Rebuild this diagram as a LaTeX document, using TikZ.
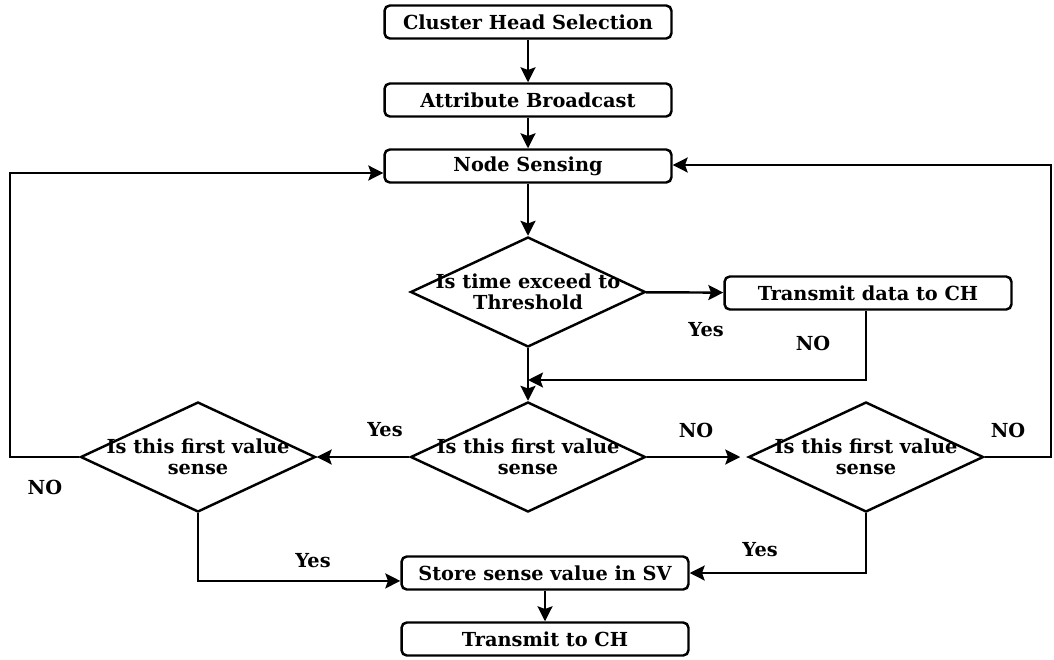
\documentclass[tikz,border=0pt]{standalone}
\usepackage{fontspec}
\setmainfont{DejaVu Serif}
\usetikzlibrary{shapes.geometric,arrows.meta}
\tikzstyle{every node}=[font=\bfseries\fontsize{11}{12}\selectfont]
\tikzstyle{process}=[draw=black,line width=1.4pt,rounded corners=3pt,minimum width=5.74cm,minimum height=0.66cm,inner sep=0pt]
\tikzstyle{decision}=[draw=black,line width=1.4pt,diamond,aspect=2.14,minimum width=4.7cm,minimum height=2.2cm,inner xsep=-0.55cm,inner ysep=0pt,align=center]
\tikzstyle{answer}=[inner sep=0pt]
\tikzstyle{flow}=[line width=1.4pt,-{Stealth[length=8.5pt,width=8.5pt,inset=1.5pt]}]

\begin{document}
\begin{tikzpicture}[x=0.02cm,y=-0.02cm]
	\useasboundingbox (0,0) rectangle (1054,659);

	\node [process] (chs) at (528,22) {Cluster Head Selection};
	\node [process] (ab) at (528,100) {Attribute Broadcast};
	\node [process] (ns) at (528,166) {Node Sensing};
	\node [decision] (thr) at (528,292) {Is time exceed to\\Threshold};
	\node [process] (tdc) at (868,293) {Transmit data to CH};
	\node [decision] (fvc) at (528,457) {Is this first value\\sense};
	\node [decision] (fvl) at (198,457) {Is this first value\\sense};
	\node [decision] (fvr) at (866,457) {Is this first value\\sense};
	\node [process] (ssv) at (545,573) {Store sense value in SV};
	\node [process] (tch) at (545,639) {Transmit to CH};

	\node [answer] (y1) at (706,330) {Yes};
	\node [answer] (n1) at (813,343) {NO};
	\node [answer] (y2) at (385,430) {Yes};
	\node [answer] (n2) at (696,430) {NO};
	\node [answer] (n3) at (1008,430) {NO};
	\node [answer] (n4) at (45,487) {NO};
	\node [answer] (y3) at (313,561) {Yes};
	\node [answer] (y4) at (760,550) {Yes};

	\coordinate (join) at (528,380);
	\coordinate (lbend) at (10,173);
	\coordinate (rbend) at (1051,165);

	\draw [flow] (chs) -- (ab);
	\draw [flow] (ab) -- (ns);
	\draw [flow] (ns) -- (thr);
	\draw [flow] (thr) -- (tdc);
	\draw [flow] (tdc.south -| 866,0) |- (join);
	\draw [flow] (thr) -- (fvc);
	\draw [flow] (fvc) -- (fvl);
	\draw [flow,shorten >=4pt] (fvc) -- (fvr);
	\draw [flow] (fvl.west) -| (lbend) -- (lbend -| ns.west);
	\draw [flow] (fvr.east) -| (rbend) -- (rbend -| ns.east);
	\draw [flow] (fvl.south) |- ([yshift=-4.5pt]ssv.west);
	\draw [flow] (fvr.south) |- (ssv.east);
	\draw [flow] (ssv) -- (tch);
\end{tikzpicture}
\end{document}
